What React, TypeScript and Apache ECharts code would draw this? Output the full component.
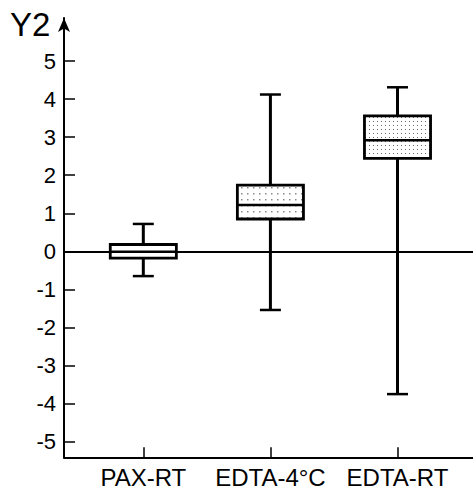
import React, { useEffect, useRef } from "react";
import * as echarts from "echarts";

const categories = ["PAX-RT", "EDTA-4°C", "EDTA-RT"];
const mins = [-0.65, -1.54, -3.75];
const q1s = [-0.18, 0.85, 2.44];
const medians = [-0.01, 1.22, 2.92];
const q3s = [0.18, 1.74, 3.56];
const maxs = [0.72, 4.12, 4.31];
const yTicks = [-5, -4, -3, -2, -1, 0, 1, 2, 3, 4, 5];
const xPositions = [1, 2, 3];

const FONT = "'Liberation Sans', Arial, Helvetica, sans-serif";

function makePattern(step: number, dot: number, color: string) {
  const c = document.createElement("canvas");
  c.width = step;
  c.height = step;
  const ctx = c.getContext("2d")!;
  ctx.fillStyle = "#ffffff";
  ctx.fillRect(0, 0, step, step);
  ctx.fillStyle = color;
  ctx.fillRect(1, 1, dot, dot);
  return { image: c, repeat: "repeat", imageWidth: step, imageHeight: step } as any;
}

export default function App() {
  const ref = useRef<HTMLDivElement>(null);
  useEffect(() => {
    if (!ref.current) return;
    const chart = echarts.init(ref.current, null, { renderer: "svg" });
    const fills: any[] = [
      "#ffffff",
      makePattern(6, 1.5, "#8a8a8a"),
      makePattern(4, 1, "#6a6a6a"),
    ];
    const data = categories.map((_, i) => [
      xPositions[i],
      mins[i],
      q1s[i],
      medians[i],
      q3s[i],
      maxs[i],
    ]);
    const BOX_W = 0.52;
    const CAP_W = 0.165;
    chart.setOption({
      animation: false,
      backgroundColor: "#ffffff",
      textStyle: { fontFamily: FONT },
      grid: { left: 64, right: 0, top: 18, bottom: 33.7, containLabel: false },
      xAxis: {
        type: "value",
        min: 0.376,
        max: 3.594,
        splitLine: { show: false },
        axisLine: { onZero: false, lineStyle: { color: "#000", width: 2 } },
        axisTick: {
          inside: true,
          length: 10,
          customValues: xPositions,
          lineStyle: { color: "#000", width: 1.5 },
        },
        axisLabel: {
          customValues: xPositions,
          color: "#000",
          fontSize: 24,
          fontFamily: FONT,
          margin: 8,
          formatter: (v: number) => categories[Math.round(v) - 1] ?? "",
        },
      },
      yAxis: {
        type: "value",
        min: -5.41,
        max: 6.13,
        splitLine: { show: false },
        axisLine: {
          onZero: false,
          symbol: ["none", "arrow"],
          symbolSize: [9, 14],
          lineStyle: { color: "#000", width: 2 },
        },
        axisTick: {
          inside: true,
          length: 11,
          customValues: yTicks,
          lineStyle: { color: "#000", width: 1.5 },
        },
        axisLabel: {
          customValues: yTicks,
          color: "#000",
          fontSize: 22,
          fontFamily: FONT,
          margin: 8,
        },
      },
      graphic: [
        {
          type: "text",
          left: 10,
          top: 8,
          style: { text: "Y2", fontSize: 33, fontFamily: FONT, fill: "#000" },
        },
      ],
      series: [
        {
          type: "custom",
          data,
          encode: { x: 0, y: [1, 2, 3, 4, 5] },
          renderItem: (params: any, api: any) => {
            const x = api.value(0);
            const lo = api.coord([x, api.value(1)]);
            const q1 = api.coord([x, api.value(2)]);
            const med = api.coord([x, api.value(3)]);
            const q3 = api.coord([x, api.value(4)]);
            const hi = api.coord([x, api.value(5)]);
            const bw = api.size([BOX_W, 0])[0];
            const cw = api.size([CAP_W, 0])[0];
            const cx = lo[0];
            const fill = fills[params.dataIndex];
            return {
              type: "group",
              children: [
                {
                  type: "line",
                  shape: { x1: cx, y1: hi[1], x2: cx, y2: lo[1] },
                  style: { stroke: "#000", lineWidth: 3 },
                },
                {
                  type: "line",
                  shape: { x1: cx - cw / 2, y1: hi[1], x2: cx + cw / 2, y2: hi[1] },
                  style: { stroke: "#000", lineWidth: 2.5 },
                },
                {
                  type: "line",
                  shape: { x1: cx - cw / 2, y1: lo[1], x2: cx + cw / 2, y2: lo[1] },
                  style: { stroke: "#000", lineWidth: 2.5 },
                },
                {
                  type: "rect",
                  shape: { x: cx - bw / 2, y: q3[1], width: bw, height: q1[1] - q3[1] },
                  style: { fill, stroke: "#000", lineWidth: 2.8 },
                },
                {
                  type: "line",
                  shape: { x1: cx - bw / 2, y1: med[1], x2: cx + bw / 2, y2: med[1] },
                  style: { stroke: "#000", lineWidth: 2.5 },
                },
              ],
            };
          },
          markLine: {
            silent: true,
            symbol: ["none", "none"],
            label: { show: false },
            lineStyle: { color: "#000", width: 2, type: "solid" },
            data: [{ yAxis: 0 }],
          },
        },
      ],
    });
    return () => chart.dispose();
  }, []);
  return <div ref={ref} style={{ width: 473, height: 491, position: "absolute", left: 0, top: 0 }} />;
}
